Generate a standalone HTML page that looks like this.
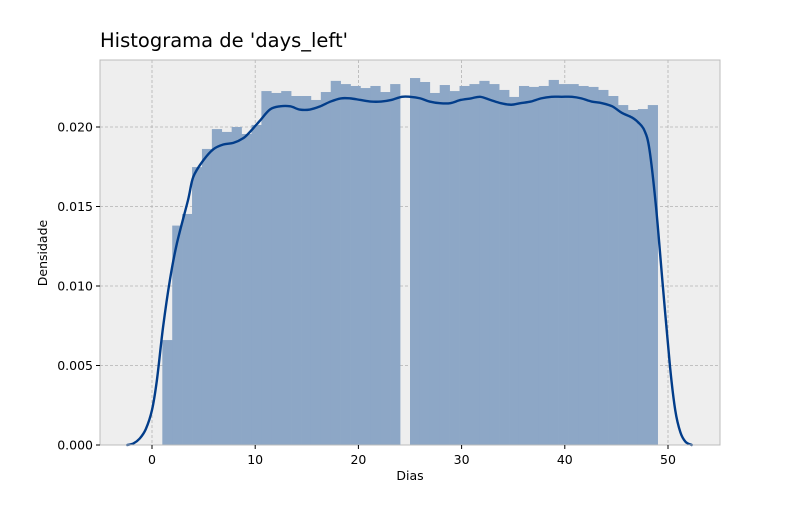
<!DOCTYPE html>
<html><head><meta charset="utf-8"><style>
body{margin:0;background:#fff;}
svg text{font-family:"DejaVu Sans","Liberation Sans",sans-serif;fill:#000;}
</style></head><body>
<svg id="chart" width="800" height="500" xmlns="http://www.w3.org/2000/svg">
<rect x="0" y="0" width="800" height="500" fill="#fff"/>
<rect x="100" y="60" width="620" height="385" fill="#eeeeee"/>
<g id="grid"></g>
<g id="bars"></g>
<g id="kde"></g>
<rect x="100" y="60" width="620" height="385" fill="none" stroke="#bcbcbc" stroke-width="1"/>
<g id="ticks"></g>
<text x="100" y="47" font-size="19.5">Histograma de 'days_left'</text>
<text x="410" y="480" font-size="12.5" text-anchor="middle">Dias</text>
<text x="47" y="253" font-size="12.5" text-anchor="middle" transform="rotate(-90 47 253)">Densidade</text>
</svg>
<script>
const binStart = 1;
const binWidth = 0.96;
const densities = [0.0066,0.0138,0.01453,0.01748,0.01862,0.01987,0.01969,0.0200,0.01956,0.02013,
0.02226,0.02214,0.02226,0.02195,0.02195,0.0217,0.0222,0.0229,0.0227,0.02258,
0.02245,0.02258,0.0222,0.0227,0,0.02308,0.02283,0.02214,0.02264,0.02226,
0.02258,0.0227,0.0229,0.0227,0.02233,0.02189,0.02258,0.02252,0.02258,0.02296,
0.0227,0.0227,0.02258,0.02252,0.02233,0.02195,0.02138,0.02107,0.02113,0.02138];
const kdeX = [-2.4,-1.8,-1.2,-0.6,0,0.48,1.07,1.74,2.42,3.49,4.0,4.97,5.94,6.91,7.88,8.85,9.5,10.46,11.43,12.4,13.4,14.3,15.3,16.3,17.3,18.3,19.2,20.2,21.2,22.2,23.2,24.2,25.0,26.0,26.9,27.9,28.9,29.9,30.9,31.8,32.8,33.8,34.8,35.7,36.7,37.7,38.7,39.7,40.7,41.6,42.6,43.6,44.6,45.5,46.5,47.1,47.7,48.2,48.84,49.5,50.2,50.7,51.2,51.7,52.3];
const kdeY = [0,0.0001,0.0004,0.001,0.0022,0.0041,0.0074,0.0104,0.0127,0.0154,0.01686,0.0179,0.0186,0.0189,0.019,0.0193,0.0197,0.0204,0.0211,0.0213,0.0213,0.0211,0.0211,0.0213,0.0216,0.0218,0.0218,0.0217,0.0216,0.0216,0.0217,0.0219,0.0219,0.0218,0.0216,0.0215,0.0215,0.0217,0.0218,0.0219,0.0217,0.0215,0.0214,0.0215,0.0216,0.0218,0.0219,0.0219,0.0219,0.0218,0.0216,0.0215,0.0213,0.0209,0.0206,0.0203,0.0198,0.0186,0.01497,0.01,0.0049,0.0022,0.0008,0.0002,0];
const xTicks = [0,10,20,30,40,50];
const yTicks = [0,0.005,0.010,0.015,0.020];
const yTickLabels = ["0.000","0.005","0.010","0.015","0.020"];

const NS = "http://www.w3.org/2000/svg";
const sx = v => 152 + v * 10.32;
const sy = v => 445 - v * 15900;
function mk(tag, attrs, parent){const e=document.createElementNS(NS,tag);for(const k in attrs)e.setAttribute(k,attrs[k]);parent.appendChild(e);return e;}

const grid=document.getElementById('grid'), ticks=document.getElementById('ticks');
xTicks.forEach(t=>{
  const g=mk('line',{x1:sx(t),x2:sx(t),y1:60,y2:445,stroke:'#b2b2b2','stroke-width':0.8,'stroke-dasharray':'3,2'},grid);
  
  
  const tk=mk('line',{x1:sx(t),x2:sx(t),y1:445,y2:449,stroke:'#000','stroke-width':1},ticks);
  
  
  const lb=mk('text',{x:sx(t),y:464,'font-size':12.5,'text-anchor':'middle'},ticks);
  lb.textContent=String(t);
  
  
});
yTicks.forEach((t,i)=>{
  const g=mk('line',{x1:100,x2:720,y1:sy(t),y2:sy(t),stroke:'#b2b2b2','stroke-width':0.8,'stroke-dasharray':'3,2'},grid);
  
  
  const tk=mk('line',{x1:96,x2:100,y1:sy(t),y2:sy(t),stroke:'#000','stroke-width':1},ticks);
  
  
  const lb=mk('text',{x:93,y:sy(t)+4.5,'font-size':12.5,'text-anchor':'end'},ticks);
  lb.textContent=yTickLabels[i];
  
  
});
const bars=document.getElementById('bars');
densities.forEach((d,i)=>{
  if(d<=0) return;
  const x0=sx(binStart+i*binWidth), x1=sx(binStart+(i+1)*binWidth);
  const r=mk('rect',{x:x0,y:sy(d),width:x1-x0+0.3,height:445-sy(d),fill:'#8da7c6'},bars);
  
  
});
const pts=kdeX.map((x,i)=>[sx(x),sy(kdeY[i])]);
let dstr='M'+pts[0][0].toFixed(2)+','+pts[0][1].toFixed(2);
for(let i=0;i<pts.length-1;i++){
  const p0=pts[Math.max(0,i-1)],p1=pts[i],p2=pts[i+1],p3=pts[Math.min(pts.length-1,i+2)];
  const c1=[p1[0]+(p2[0]-p0[0])/6,p1[1]+(p2[1]-p0[1])/6];
  const c2=[p2[0]-(p3[0]-p1[0])/6,p2[1]-(p3[1]-p1[1])/6];
  dstr+='C'+c1[0].toFixed(2)+','+c1[1].toFixed(2)+' '+c2[0].toFixed(2)+','+c2[1].toFixed(2)+' '+p2[0].toFixed(2)+','+p2[1].toFixed(2);
}
const p=mk('path',{d:dstr,fill:'none',stroke:'#023d8a','stroke-width':2.4,'stroke-linejoin':'round','stroke-linecap':'round'},document.getElementById('kde'));


</script>
</body></html>
